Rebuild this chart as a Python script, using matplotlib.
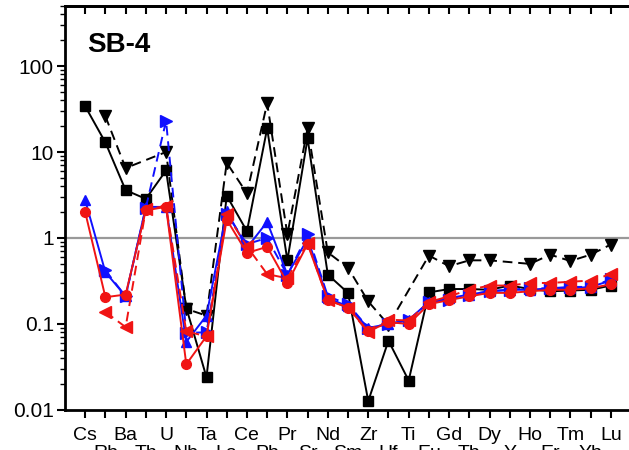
import numpy as np
from matplotlib import pyplot as plt
from matplotlib.ticker import LogLocator, FixedLocator, NullFormatter

nan = np.nan

elements = ["Cs", "Rb", "Ba", "Th", "U", "Nb", "Ta", "La", "Ce", "Pb",
            "Pr", "Sr", "Nd", "Sm", "Zr", "Hf", "Ti", "Eu", "Gd", "Tb",
            "Dy", "Y", "Ho", "Er", "Tm", "Yb", "Lu"]

black_square = [34, 12.9, 3.6, 2.85, 6.1, 0.155, 0.024, 3.1, 1.2, 18.8,
                0.55, 14.4, 0.375, 0.23, 0.0127, 0.064, 0.022, 0.233, 0.255, 0.255,
                0.25, 0.28, 0.255, 0.24, 0.245, 0.25, 0.28]
black_tri = [nan, 26, 6.5, nan, 10, 0.15, 0.125, 7.5, 3.3, 37,
             1.1, 19, 0.68, 0.45, 0.183, 0.098, nan, 0.625, 0.47, 0.55,
             0.55, nan, 0.50, 0.64, 0.54, 0.64, 0.84]
blue_up = [2.75, 0.40, 0.21, 2.3, 2.3, 0.062, 0.125, 2.05, 0.77, 1.54,
           0.375, 0.98, 0.2, 0.16, 0.09, 0.1, 0.112, 0.18, 0.2, 0.22,
           0.24, 0.25, 0.25, 0.26, 0.26, 0.27, 0.32]
blue_right = [nan, 0.42, 0.21, 2.25, 23, 0.079, 0.08, 1.9, 0.85, 1.0,
              0.37, 1.1, 0.21, 0.17, 0.09, 0.1, 0.11, 0.18, 0.19, 0.22,
              0.24, 0.25, 0.26, 0.26, 0.27, 0.27, 0.33]
red_circle = [2.0, 0.205, 0.22, 2.1, 2.3, 0.034, 0.072, 1.64, 0.67, 0.79,
              0.30, 0.85, 0.19, 0.155, 0.082, 0.105, 0.10, 0.17, 0.19, 0.21,
              0.23, 0.23, 0.24, 0.25, 0.25, 0.26, 0.29]
red_left = [nan, 0.138, 0.092, 2.15, 2.35, 0.082, 0.072, 1.88, 0.80, 0.38,
            0.34, 0.88, 0.19, 0.155, 0.08, 0.112, 0.11, 0.18, 0.21, 0.25,
            0.28, 0.28, 0.30, 0.30, 0.31, 0.32, 0.38]

plt.rcParams['font.family'] = ['Liberation Sans', 'DejaVu Sans']

fig = plt.figure(figsize=(6.29, 4.5), dpi=100)
ax = fig.add_axes([0.1033, 0.0889, 0.9, 0.898])

x = np.arange(len(elements))


def draw(vals, color, marker, ls, ms, dashes=None):
    v = np.asarray(vals, dtype=float)
    ok = ~np.isnan(v)
    line, = ax.plot(x[ok], v[ok], color=color, marker=marker, ls=ls,
                    lw=1.4, ms=ms, mec=color, mfc=color)
    if dashes is not None:
        line.set_dashes(dashes)


ax.axhline(1, color='#999999', lw=1.6, zorder=1)

draw(black_square, 'black', 's', '-', 6.5)
draw(black_tri, 'black', 'v', '--', 8, (5, 3))
draw(blue_up, '#1010ff', '^', '-', 7.5)
draw(blue_right, '#1010ff', '>', '--', 8, (5, 3))
draw(red_circle, '#f01414', 'o', '-', 7)
draw(red_left, '#f01414', '<', '--', 8.5, (5, 3))

ax.set_yscale('log')
ax.set_ylim(0.01, 500)
ax.set_xlim(-1, len(elements))
ax.set_yticks([0.01, 0.1, 1, 10, 100])
ax.set_yticklabels(["0.01", "0.1", "1", "10", "100"])
ax.yaxis.set_minor_locator(LogLocator(base=10, subs=np.arange(2, 10)))
ax.yaxis.set_minor_formatter(NullFormatter())

# two rows of element names: even ones on top, odd ones below
ax.set_xticks(x[::2])
ax.set_xticklabels(elements[::2])
ax.xaxis.set_minor_locator(FixedLocator(x[1::2]))
ax.set_xticks(x[1::2], minor=True)
ax.set_xticklabels(elements[1::2], minor=True)

ax.tick_params(axis='y', which='major', length=6, width=1.5, labelsize=15, pad=2)
ax.tick_params(axis='y', which='minor', length=3.5, width=1)
ax.tick_params(axis='x', which='major', length=6, width=1.5, labelsize=14, pad=6)
ax.tick_params(axis='x', which='minor', length=6, width=1.5, labelsize=14, pad=19)

top = ax.secondary_xaxis('top')
top.set_xticks(x)
top.tick_params(direction='in', length=6, width=1.5, labeltop=False)
top.spines['top'].set_linewidth(2)

for s in ax.spines.values():
    s.set_linewidth(2)

ax.text(0.04, 0.903, "SB-4", transform=ax.transAxes, fontsize=20,
        fontweight='bold', va='center', ha='left')

fig.savefig("out.png", dpi=100)
